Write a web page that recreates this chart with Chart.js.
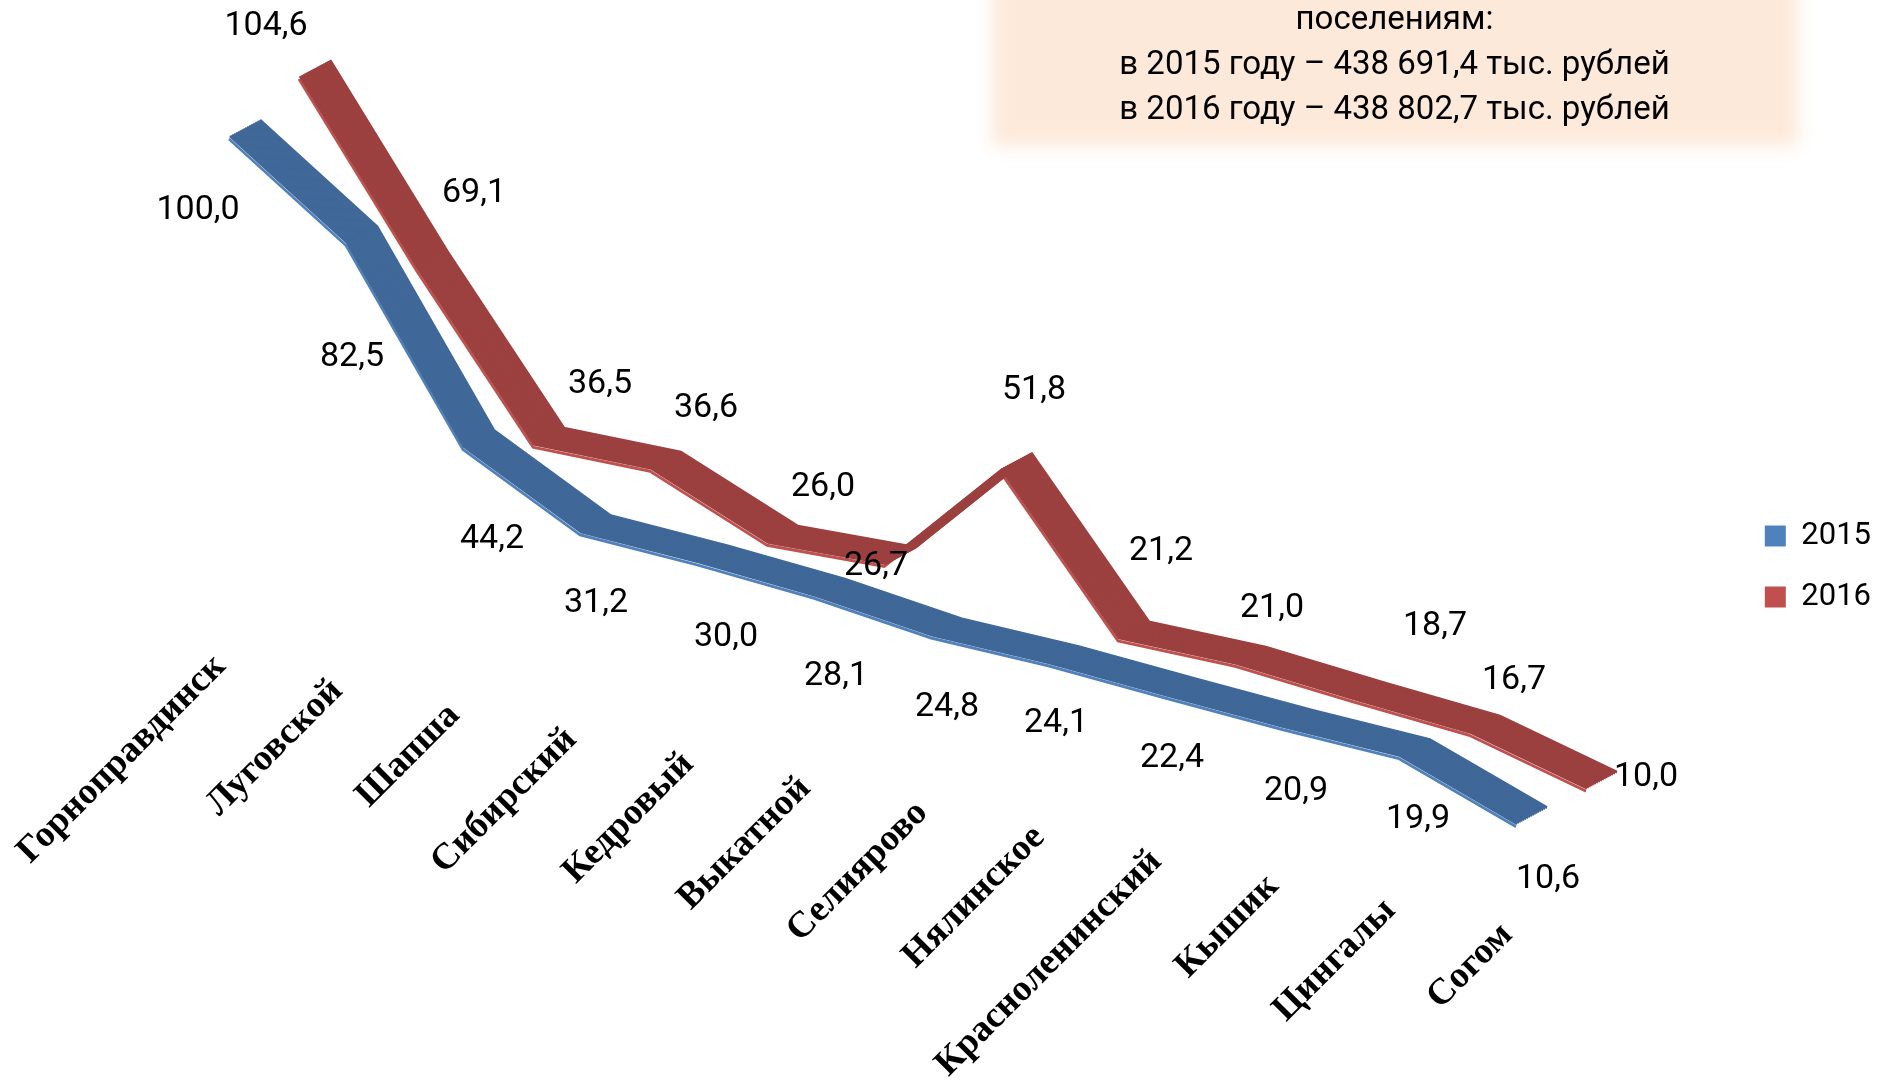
<!DOCTYPE html>
<html>
<head>
<meta charset="utf-8">
<script src="https://cdn.jsdelivr.net/npm/chart.js@4.4.1/dist/chart.umd.min.js"></script>
<style>
html,body{margin:0;padding:0;background:#fff;width:1881px;height:1081px;overflow:hidden}
#wrap{position:relative;width:1881px;height:1081px}
#note-bg{position:absolute;left:992px;top:-40px;width:806px;height:186px;background:#FDE9D9;filter:blur(9px)}
#note{position:absolute;left:984px;top:-5px;width:821px;text-align:center;font-family:Roboto,sans-serif;font-size:33px;line-height:45px;color:#000}
#c{position:absolute;left:0;top:0}
</style>
</head>
<body>
<div id="wrap">
  <div id="note-bg"></div>
  <canvas id="c" width="1881" height="1081"></canvas>
  <div id="note">поселениям:<br>в 2015 году – 438 691,4 тыс. рублей<br>в 2016 году – 438 802,7 тыс. рублей</div>
</div>
<script>
// ---- data ----
const categories = ['Горноправдинск','Луговской','Шапша','Сибирский','Кедровый','Выкатной','Селиярово','Нялинское','Красноленинский','Кышик','Цингалы','Согом'];
const values2015 = [100.0, 82.5, 44.2, 31.2, 30.0, 28.1, 24.8, 24.1, 22.4, 20.9, 19.9, 10.6];
const values2016 = [104.6, 69.1, 36.5, 36.6, 26.0, 26.7, 51.8, 21.2, 21.0, 18.7, 16.7, 10.0];
const seriesNames = ['2015', '2016'];

// ---- layout / style ----
const PAD = {left: 10, right: 0, top: 20, bottom: 21};
const STEP = 117;              // px per category
const X0 = [245, 315];         // pixel of first category for each series (depth offset)
const K = 4.69;                // px per unit value
const Y0 = [597, 544];         // pixel of value 0 at first category (depth offset)
const TILT = 0.2085;           // floor tilt (perspective shear)
const DEPTH = {x: 30, y: -16}; // ribbon depth vector
const FACE = ['#3F6797', '#9B403F'];
const EDGE = ['#4F81BD', '#C0504D'];
const LABEL_OFF = [{x: 0, y: 80}, {x: 40, y: -52}];
// manual nudges of individual value labels (as placed in the original)
const LABEL_NUDGE = [
  {0: [-47, 2], 1: [-10, 43], 2: [13, 21], 4: [13, 4], 5: [6, 9], 7: [-8, -11], 8: [-9, -9], 9: [-2, -7], 10: [3, -8], 11: [16, -16]},
  {0: [-89, 10], 1: [2, -13], 2: [11, 0], 4: [0, 5], 5: [-64, 63], 6: [-23, -20], 7: [-13, -26], 8: [-19, 5], 9: [27, -12], 10: [-11, 8], 11: [4, 49]}
];

function fmt(v){ return v.toFixed(1).replace('.', ','); }

function xLimits(i){
  return function(s){ s.min = -(X0[i] - PAD.left) / STEP; s.max = s.min + s.width / STEP; };
}
function yLimits(i){
  return function(s){ s.max = (Y0[i] - PAD.top) / K; s.min = s.max - s.height / K; };
}

const ribbonPlugin = {
  id: 'ribbon',
  beforeDatasetsDraw(chart){
    const ctx = chart.ctx;
    const xo = chart.scales.x.getPixelForValue(0);
    const N = 16;
    [1, 0].forEach(di => {
      if (!chart.isDatasetVisible(di)) return;
      const meta = chart.getDatasetMeta(di);
      const ds = chart.data.datasets[di];
      for (let j = 0; j <= N; j++){
        const f = j / N - 0.5;
        ctx.save();
        ctx.translate(DEPTH.x * f, DEPTH.y * f);
        ctx.transform(1, TILT, 0, 1, 0, -TILT * xo);
        if (j === 0){
          ctx.shadowColor = ds.backgroundColor;
          ctx.shadowOffsetX = -1; ctx.shadowOffsetY = 3; ctx.shadowBlur = 0;
        }
        meta.dataset.draw(ctx, chart.chartArea);
        ctx.restore();
      }
    });
    return false;
  },
  afterDraw(chart){
    const ctx = chart.ctx;
    const xs = chart.scales.x, ys = chart.scales.y;
    const xo = xs.getPixelForValue(0);
    // value labels
    ctx.save();
    ctx.fillStyle = '#000';
    ctx.font = '34px Roboto';
    ctx.textAlign = 'center';
    ctx.textBaseline = 'middle';
    chart.data.datasets.forEach((ds, di) => {
      if (!chart.isDatasetVisible(di)) return;
      const meta = chart.getDatasetMeta(di);
      meta.data.forEach((pt, i) => {
        const px = pt.x, py = pt.y + TILT * (pt.x - xo);
        const n = LABEL_NUDGE[di][i] || [0, 0];
        ctx.fillText(fmt(ds.data[i].y), px + LABEL_OFF[di].x + n[0], py + LABEL_OFF[di].y + n[1]);
      });
    });
    ctx.restore();
    // category labels
    ctx.save();
    ctx.fillStyle = '#000';
    ctx.font = 'bold 37px "Liberation Serif"';
    ctx.textAlign = 'right';
    ctx.textBaseline = 'middle';
    categories.forEach((c, i) => {
      const px = xs.getPixelForValue(i);
      const ax = px - 25;
      const ay = ys.getPixelForValue(0) + 64 + TILT * (px - xo);
      ctx.save();
      ctx.translate(ax, ay);
      ctx.rotate(-Math.PI / 4);
      ctx.fillText(c, 0, 0);
      ctx.restore();
    });
    ctx.restore();
  }
};

new Chart(document.getElementById('c'), {
  type: 'line',
  data: {
    datasets: [
      {label: seriesNames[0], data: values2015.map((v, i) => ({x: i, y: v})), xAxisID: 'x', yAxisID: 'y',
       borderColor: FACE[0], backgroundColor: EDGE[0], borderWidth: 3, pointRadius: 0, tension: 0,
       borderJoinStyle: 'miter', borderCapStyle: 'butt', fill: false},
      {label: seriesNames[1], data: values2016.map((v, i) => ({x: i, y: v})), xAxisID: 'x2', yAxisID: 'y2',
       borderColor: FACE[1], backgroundColor: EDGE[1], borderWidth: 3, pointRadius: 0, tension: 0,
       borderJoinStyle: 'miter', borderCapStyle: 'butt', fill: false}
    ]
  },
  options: {
    responsive: false,
    animation: false,
    events: [],
    layout: {padding: PAD},
    scales: {
      x:  {type: 'linear', display: false, bounds: 'data', grace: 0, afterDataLimits: xLimits(0)},
      x2: {type: 'linear', display: false, bounds: 'data', grace: 0, afterDataLimits: xLimits(1)},
      y:  {type: 'linear', display: false, bounds: 'data', grace: 0, afterDataLimits: yLimits(0)},
      y2: {type: 'linear', display: false, bounds: 'data', grace: 0, afterDataLimits: yLimits(1)}
    },
    plugins: {
      tooltip: {enabled: false},
      legend: {
        position: 'right',
        align: 'center',
        title: {display: true, text: '', padding: {top: 52, bottom: 0}, font: {size: 1}},
        labels: {
          boxWidth: 21, boxHeight: 21, padding: 30, color: '#000',
          font: {family: 'Roboto', size: 31},
          generateLabels(chart){
            const items = Chart.defaults.plugins.legend.labels.generateLabels(chart);
            items.forEach(it => { it.strokeStyle = it.fillStyle; it.lineWidth = 0; });
            return items;
          }
        }
      }
    }
  },
  plugins: [ribbonPlugin]
});
</script>
</body>
</html>
